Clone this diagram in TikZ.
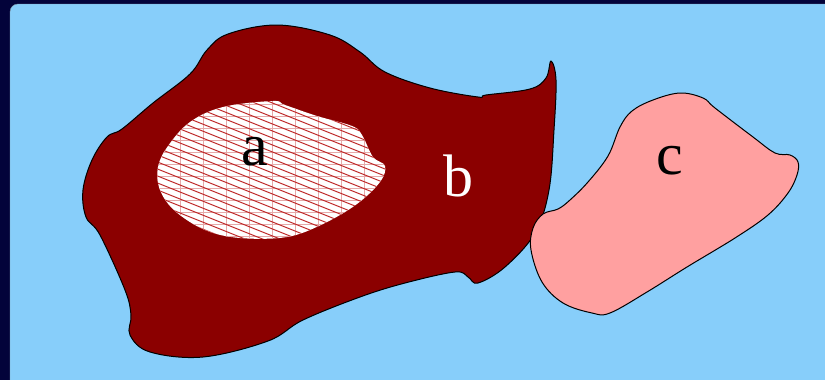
\documentclass[tikz,border=0pt]{standalone}
\usepackage{fontspec}
\setmainfont{Liberation Serif}
\usetikzlibrary{positioning}
\definecolor{framenavy}{RGB}{3,3,58}
\definecolor{panelblue}{RGB}{135,206,250}
\definecolor{regionb}{RGB}{139,0,0}
\definecolor{regionc}{RGB}{255,160,160}
\definecolor{hatchred}{RGB}{190,40,40}

\begin{document}
\begin{tikzpicture}[x=1pt, y=-1pt, every node/.style={font=\fontsize{60}{72}\selectfont, inner sep=0pt}]
        \useasboundingbox (0,0) rectangle (825,380);
        % Frame and panel
        \fill[framenavy] (0,0) rectangle (825,380);
        \clip (0,0) rectangle (825,380);
        \draw[gray!60!panelblue, fill=panelblue, rounded corners=8] (10,4) rectangle (840,395);

        % Region b
        \draw[line width=1pt, fill=regionb] plot[smooth cycle, tension=0.6] coordinates {
          (207,50) (228,34) (277,25) (330,35) (360,52) (385,72) (430,88) (478,97)
          (486,95) (530,89) (546,78) (551,61) (556,80) (554,130) (549,190) (535,233)
          (505,267) (478,283) (468,277) (455,272) (405,283) (360,297) (303,320) (268,341)
          (203,357) (150,352) (130,335) (131,315) (125,290) (100,235) (86,217) (83,190)
          (92,160) (107,137) (122,129) (153,103) (190,74)};

        % Region a (hatched)
        \begin{scope}
          \clip plot[smooth cycle, tension=0.6] coordinates {
            (223,107) (273,101) (285,105) (317,116) (352,126) (362,135) (373,157) (385,166)
            (380,182) (357,204) (323,224) (287,237) (240,238) (205,230) (175,211) (160,190)
            (158,167) (168,146) (190,122)};
          \fill[white] (150,95) rectangle (390,245);
          \foreach \x in {157,180,...,390} {
            \draw[hatchred!40, line width=0.7pt] (\x,95) -- (\x,245);
          }
          \foreach \y in {104,116,...,245} {
            \draw[hatchred!40, line width=0.7pt] (150,\y) -- (390,\y);
          }
          \foreach \k in {-100,-93,...,245} {
            \draw[hatchred, line width=1pt] (150,\k) -- (390,\k+96);
          }
        \end{scope}

        % Region c
        \draw[line width=1pt, fill=regionc] plot[smooth cycle, tension=0.6] coordinates {
          (620,127) (632,111) (653,100) (680,93) (703,98) (715,108) (753,137) (775,153)
          (790,155) (798,162) (797,175) (788,193) (768,215) (735,238) (687,267) (647,292)
          (610,313) (592,313) (563,303) (542,282) (531,250) (533,228) (543,214) (558,209)
          (570,200) (588,182) (608,156)};

        % Labels
        \node (labela) at (255,152) {a};
        \node[white] (labelb) at (458,176) {b};
        \node (labelc) at (670,161) {c};
      \end{tikzpicture}
\end{document}
